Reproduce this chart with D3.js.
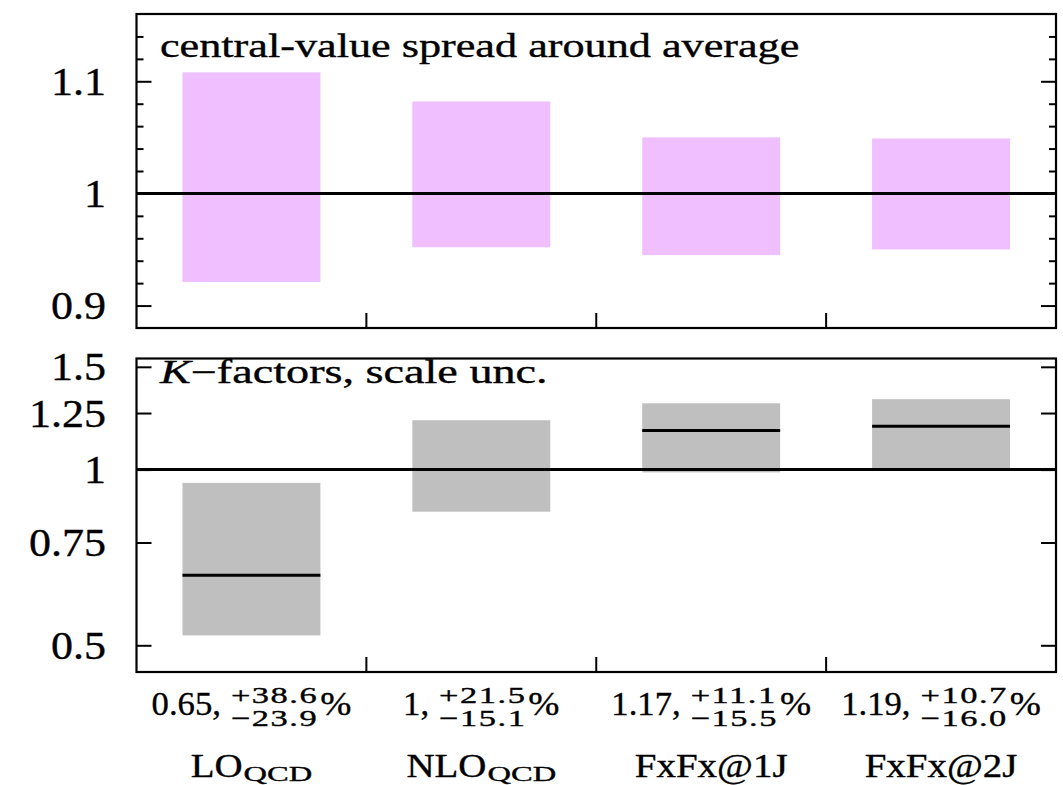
<!DOCTYPE html>
<html>
<head>
<meta charset="utf-8">
<script src="https://cdn.jsdelivr.net/npm/d3@7"></script>
<style>
  body { margin: 0; background: #fff; }
  svg { display: block; }
  text { fill: #000; stroke: #000; stroke-width: 0.35px; }
</style>
</head>
<body>
<div id="chart"></div>
<script>

// data
var catMain = ["LO", "NLO", "FxFx@1J", "FxFx@2J"];
var catSub = ["QCD", "QCD", "", ""];

// top panel: central-value spread around average
var spreadHi = [1.108, 1.082, 1.050, 1.049];
var spreadLo = [0.921, 0.952, 0.945, 0.950];

// bottom panel: K-factors with scale uncertainty
var kCentral = [0.659, 1.0, 1.167, 1.187];
var kHi = [0.949, 1.215, 1.299, 1.320];
var kLo = [0.520, 0.847, 0.989, 1.003];

var kText = ["0.65,", "1,", "1.17,", "1.19,"];
var uncUp = ["+38.6", "+21.5", "+11.1", "+10.7"];
var uncDown = ["\u221223.9", "\u221215.1", "\u221215.5", "\u221216.0"];

var topTicks = [0.9, 1, 1.1];
var topMinor = [0.92, 0.94, 0.96, 0.98, 1.02, 1.04, 1.06, 1.08, 1.12, 1.14];
var botTicks = [0.5, 0.75, 1, 1.25, 1.5];


var FONT = "Liberation Serif";
var width = 1063, height = 785;
var left = 136.5, right = 1056;
var topPanel = {y0: 14, y1: 328};
var botPanel = {y0: 358.5, y1: 672};

var svg = d3.select("#chart").append("svg")
    .attr("width", width)
    .attr("height", height);

var x = d3.scaleBand()
    .domain(d3.range(catMain.length))
    .range([left, right])
    .paddingInner(0.4)
    .paddingOuter(0.2);

var yTop = d3.scaleLinear().domain([0.88, 1.16]).range([topPanel.y1, topPanel.y0]);
var yBot = d3.scaleLog().domain([0.45, 1.55]).range([botPanel.y1, botPanel.y0]);

// text helper, stretched horizontally like the original
function txt(g, s, tx, ty, size, sx, anchor) {
    return g.append("text")
        .attr("font-family", FONT)
        .attr("font-size", size)
        .attr("text-anchor", anchor || "start")
        .attr("transform", "translate(" + tx + "," + ty + ") scale(" + sx + ",1)")
        .text(s);
}

function yAxes(g, y, major, minor, p) {
    // left and mirrored right ticks
    g.append("g").attr("transform", "translate(" + left + ",0)")
        .call(d3.axisRight(y).tickValues(major).tickSize(15).tickFormat(""))
        .call(a => a.select(".domain").remove());
    g.append("g").attr("transform", "translate(" + right + ",0)")
        .call(d3.axisLeft(y).tickValues(major).tickSize(15).tickFormat(""))
        .call(a => a.select(".domain").remove());
    if (minor) {
        g.append("g").attr("transform", "translate(" + left + ",0)")
            .call(d3.axisRight(y).tickValues(minor).tickSize(7).tickFormat(""))
            .call(a => a.select(".domain").remove());
        g.append("g").attr("transform", "translate(" + right + ",0)")
            .call(d3.axisLeft(y).tickValues(minor).tickSize(7).tickFormat(""))
            .call(a => a.select(".domain").remove());
    }
    g.selectAll(".tick line").attr("stroke", "#000").attr("stroke-width", 2);

    // tick labels
    major.forEach(function (v) {
        txt(g, String(v), 106, y(v) + 13.5, 40, 1.1, "end");
    });

    // category separators on the bottom edge
    var step = x.step();
    for (var i = 1; i < catMain.length; i++) {
        g.append("line")
            .attr("x1", left + i * step).attr("x2", left + i * step)
            .attr("y1", p.y1).attr("y2", p.y1 - 15)
            .attr("stroke", "#000").attr("stroke-width", 2);
    }
}

// ---------- top panel
var gTop = svg.append("g");

gTop.selectAll(".spread")
    .data(catMain)
    .enter().append("rect")
    .attr("class", "spread")
    .attr("x", (d, i) => x(i))
    .attr("width", x.bandwidth())
    .attr("y", (d, i) => yTop(spreadHi[i]))
    .attr("height", (d, i) => yTop(spreadLo[i]) - yTop(spreadHi[i]))
    .attr("fill", "#efbfff");

gTop.append("line")
    .attr("x1", left).attr("x2", right)
    .attr("y1", yTop(1)).attr("y2", yTop(1))
    .attr("stroke", "#000").attr("stroke-width", 3);

yAxes(gTop, yTop, topTicks, topMinor, topPanel);

gTop.append("rect")
    .attr("x", left).attr("y", topPanel.y0)
    .attr("width", right - left).attr("height", topPanel.y1 - topPanel.y0)
    .attr("fill", "none").attr("stroke", "#000").attr("stroke-width", 2.2);

txt(gTop, "central-value spread around average", 160, 57, 33, 1.34);

// ---------- bottom panel
var gBot = svg.append("g");

gBot.selectAll(".kband")
    .data(catMain)
    .enter().append("rect")
    .attr("class", "kband")
    .attr("x", (d, i) => x(i))
    .attr("width", x.bandwidth())
    .attr("y", (d, i) => yBot(kHi[i]))
    .attr("height", (d, i) => yBot(kLo[i]) - yBot(kHi[i]))
    .attr("fill", "#bfbfbf");

gBot.selectAll(".kline")
    .data(catMain)
    .enter().append("line")
    .attr("class", "kline")
    .attr("x1", (d, i) => x(i))
    .attr("x2", (d, i) => x(i) + x.bandwidth())
    .attr("y1", (d, i) => yBot(kCentral[i]))
    .attr("y2", (d, i) => yBot(kCentral[i]))
    .attr("stroke", "#000").attr("stroke-width", 3);

gBot.append("line")
    .attr("x1", left).attr("x2", right)
    .attr("y1", yBot(1)).attr("y2", yBot(1))
    .attr("stroke", "#000").attr("stroke-width", 3);

yAxes(gBot, yBot, botTicks, null, botPanel);

gBot.append("rect")
    .attr("x", left).attr("y", botPanel.y0)
    .attr("width", right - left).attr("height", botPanel.y1 - botPanel.y0)
    .attr("fill", "none").attr("stroke", "#000").attr("stroke-width", 2.2);

var kt = gBot.append("text")
    .attr("font-family", FONT)
    .attr("font-size", 33)
    .attr("transform", "translate(160,383) scale(1.4,1)");
kt.append("tspan").attr("font-style", "italic").text("K");
kt.append("tspan").text("\u2212factors, scale unc.");

// ---------- labels under the plot
var gLab = svg.append("g");
catMain.forEach(function (c, i) {
    var cx = x(i) + x.bandwidth() / 2;

    // value and asymmetric uncertainty
    var g1 = gLab.append("g");
    var a = g1.append("text").attr("font-family", FONT).attr("font-size", 34)
        .attr("transform", "scale(1.02,1)").text(kText[i]);
    var wa = 1.02 * a.node().getComputedTextLength();
    var gap = 10, ss = 1.5;
    var up = g1.append("text").attr("font-family", FONT).attr("font-size", 23)
        .attr("letter-spacing", 1).text(uncUp[i])
        .attr("transform", "translate(" + (wa + gap) + ",-12) scale(" + ss + ",1)");
    var dn = g1.append("text").attr("font-family", FONT).attr("font-size", 23)
        .attr("letter-spacing", 1).text(uncDown[i])
        .attr("transform", "translate(" + (wa + gap) + ",11) scale(" + ss + ",1)");
    var ws = ss * Math.max(up.node().getComputedTextLength(), dn.node().getComputedTextLength());
    var pc = g1.append("text").attr("font-family", FONT).attr("font-size", 34)
        .attr("transform", "translate(" + (wa + gap + ws + 2) + ",0) scale(1.1,1)").text("%");
    var w1 = wa + gap + ws + 2 + 1.1 * pc.node().getComputedTextLength();
    g1.attr("transform", "translate(" + (cx - w1 / 2) + ",715)");

    // category name with optional subscript
    var g2 = gLab.append("g");
    var s2 = 1.18;
    var m = g2.append("text").attr("font-family", FONT).attr("font-size", 33)
        .attr("transform", "scale(" + s2 + ",1)").text(c);
    var w2 = s2 * m.node().getComputedTextLength();
    if (catSub[i]) {
        var sb = g2.append("text").attr("font-family", FONT).attr("font-size", 21)
            .attr("transform", "translate(" + (w2 + 1) + ",4) scale(1.55,1)").text(catSub[i]);
        w2 += 1 + 1.55 * sb.node().getComputedTextLength();
    }
    g2.attr("transform", "translate(" + (cx - w2 / 2) + ",777)");
});

</script>
</body>
</html>
